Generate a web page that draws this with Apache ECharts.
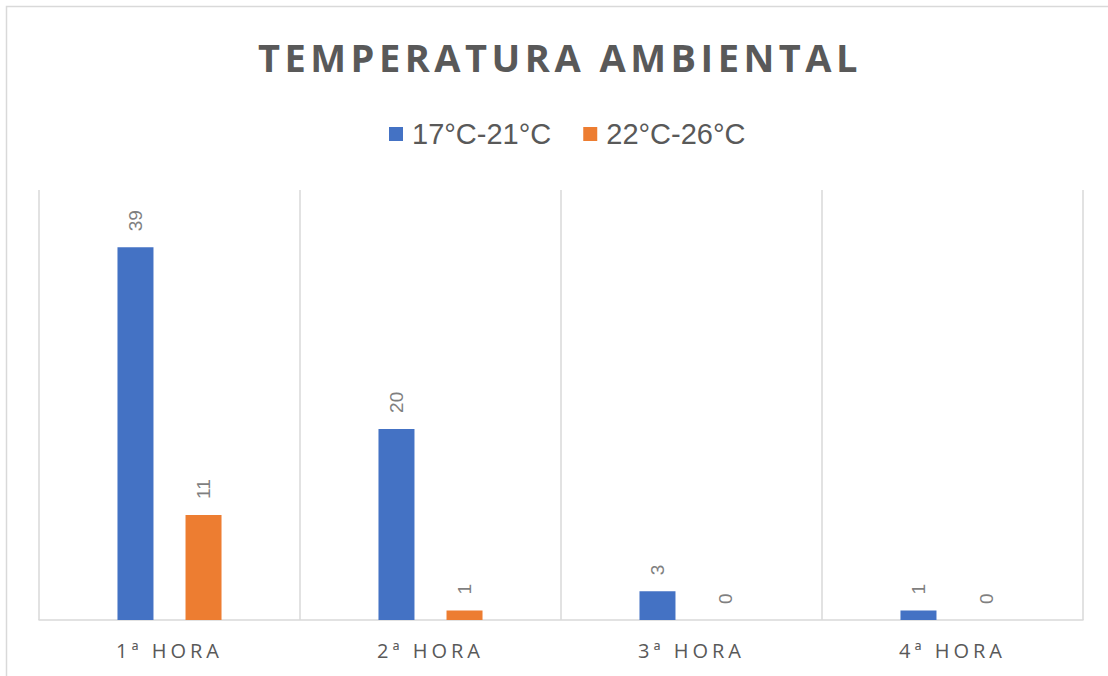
<!DOCTYPE html>
<html>
<head>
<meta charset="utf-8">
<script src="https://cdn.jsdelivr.net/npm/echarts@6/dist/echarts.min.js"></script>
<style>
html,body{margin:0;padding:0;background:#fff;}
#chart{width:1108px;height:676px;}
</style>
</head>
<body>
<div id="chart"></div>
<script>
const titleText = 'TEMPERATURA AMBIENTAL';
const categories = ['1ª HORA', '2ª HORA', '3ª HORA', '4ª HORA'];
const seriesNames = ['17°C-21°C', '22°C-26°C'];
const values17to21 = [39, 20, 3, 1];
const values22to26 = [11, 1, 0, 0];

const chart = echarts.init(document.getElementById('chart'), null, {renderer: 'svg'});
const labelStyle = {
  show: true,
  position: 'top',
  rotate: 90,
  align: 'left',
  verticalAlign: 'middle',
  distance: 16,
  color: '#7F7F7F',
  fontSize: 19,
  fontFamily: 'Liberation Sans'
};
chart.setOption({
  animation: false,
  backgroundColor: '#ffffff',
  graphic: [{
    type: 'rect',
    shape: {x: 6.5, y: 6.5, width: 1120, height: 700},
    style: {fill: 'none', stroke: '#D9D9D9', lineWidth: 1.5},
    silent: true
  }],
  title: {
    text: titleText,
    left: 258,
    top: 38,
    padding: 0,
    textStyle: {fontFamily: 'Open Sans', fontWeight: 'bold', fontSize: 38, color: '#595959'}
  },
  legend: {
    left: 389,
    top: 119,
    padding: 0,
    icon: 'rect',
    itemWidth: 14,
    itemHeight: 14,
    itemGap: 32,
    textStyle: {fontFamily: 'Liberation Sans', fontSize: 29, lineHeight: 30, color: '#595959', padding: [0, 0, 0, 4]},
    data: seriesNames
  },
  grid: {left: 39, right: 25, top: 190, bottom: 56, containLabel: false},
  xAxis: {
    type: 'category',
    data: categories,
    boundaryGap: true,
    axisLine: {show: true, lineStyle: {color: '#D9D9D9', width: 1.5}},
    axisTick: {show: false},
    splitLine: {show: true, interval: 0, lineStyle: {color: '#D9D9D9', width: 1.5}},
    axisLabel: {margin: 20, fontFamily: 'Open Sans', fontSize: 20, color: '#595959', interval: 0}
  },
  yAxis: {
    type: 'value',
    min: 0,
    max: 45,
    show: false,
    splitLine: {show: false}
  },
  series: [
    {name: seriesNames[0], type: 'bar', data: values17to21, barWidth: 36, barGap: '89%',
     itemStyle: {color: '#4472C4'}, label: labelStyle},
    {name: seriesNames[1], type: 'bar', data: values22to26, barWidth: 36, barGap: '89%',
     itemStyle: {color: '#ED7D31'}, label: labelStyle}
  ]
});

function applySpacing() {
  document.querySelectorAll('#chart text').forEach(function (t) {
    const s = t.textContent;
    if (s === titleText) t.style.letterSpacing = '4.5px';
    else if (categories.indexOf(s) >= 0) t.style.letterSpacing = '4px';
  });
}
chart.on('finished', applySpacing);
applySpacing();
setTimeout(applySpacing, 50);
</script>
</body>
</html>
